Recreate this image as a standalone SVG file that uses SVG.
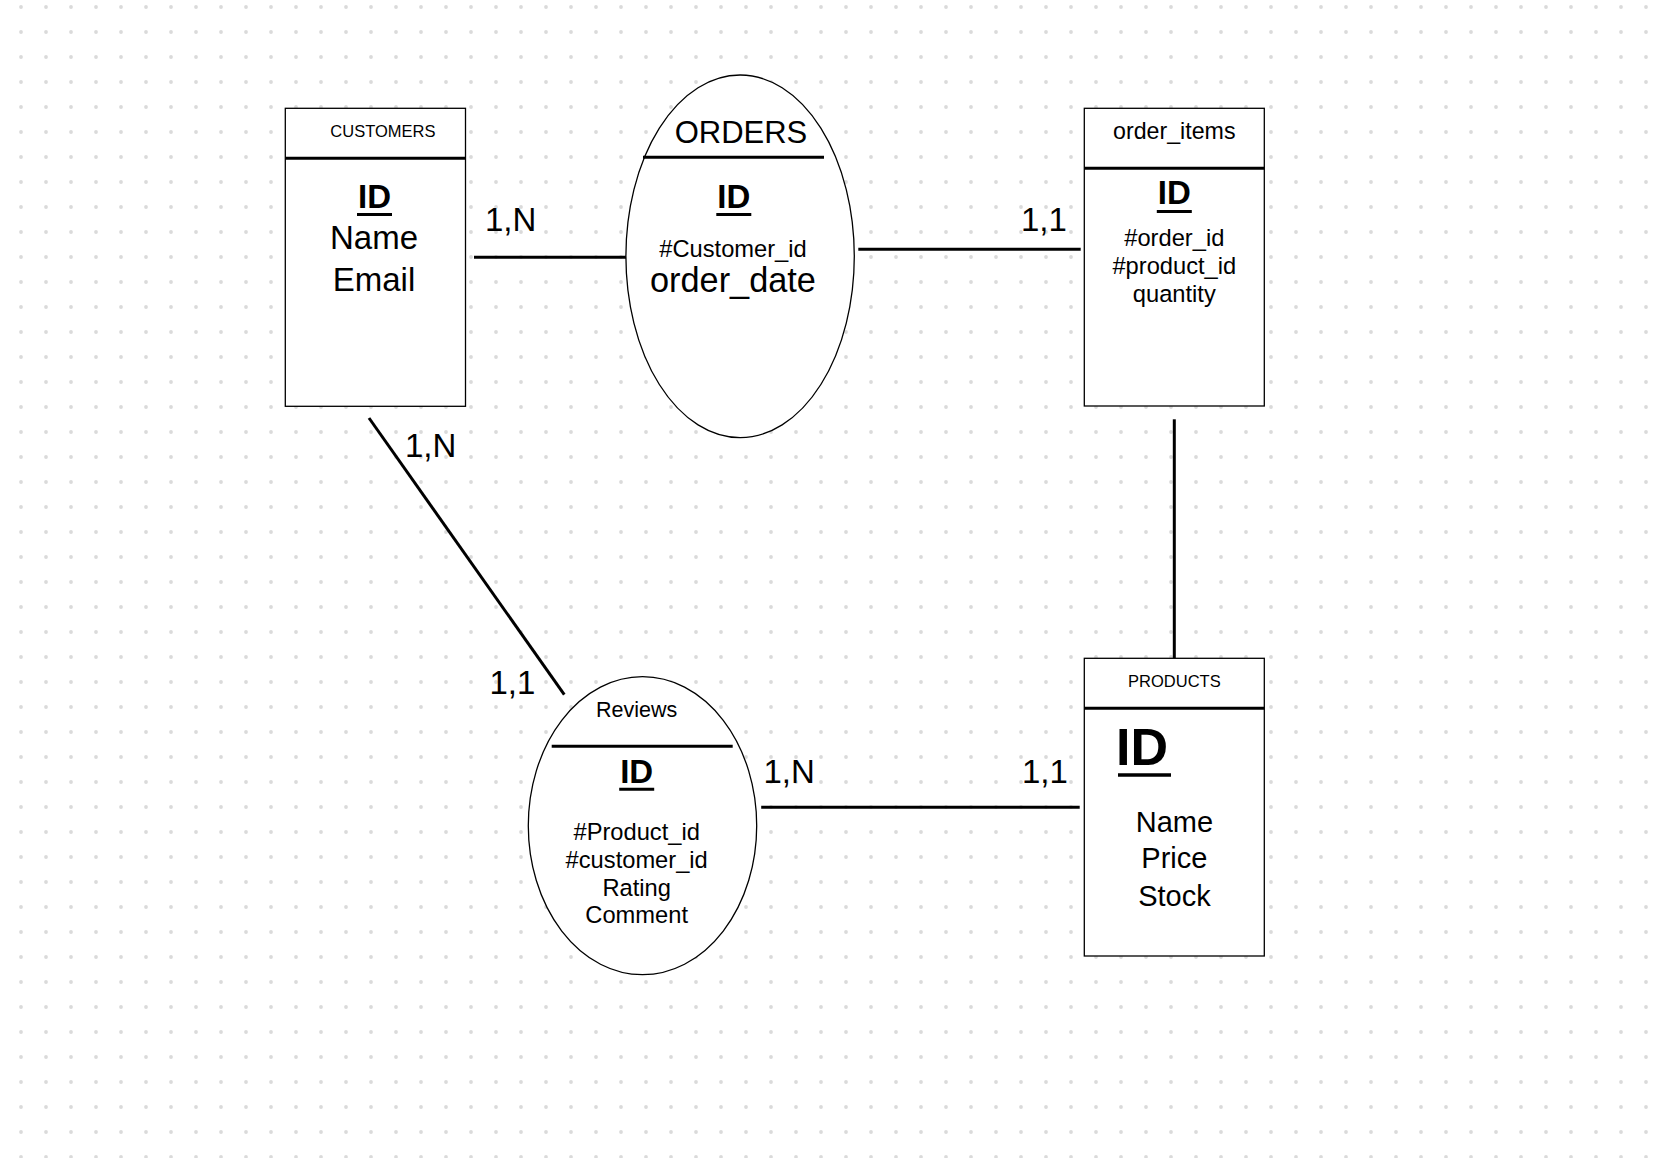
<svg xmlns="http://www.w3.org/2000/svg" width="1658" height="1158" viewBox="0 0 1658 1158">
<defs>
<pattern id="dots" x="0" y="0" width="25" height="25" patternUnits="userSpaceOnUse">
<circle cx="21" cy="7" r="1.9" fill="#dadada"/>
</pattern>
<style>
text{font-family:"Liberation Sans",Arial,sans-serif;fill:#000}
.box{fill:#fff;stroke:#000;stroke-width:1.3}
.sep{stroke:#000;stroke-width:3}
.conn{stroke:#000;stroke-width:3;fill:none}
.c{text-anchor:middle}
.id{font-weight:bold;font-size:33px;text-anchor:middle}
.card{font-size:33px}
.attr{font-size:23.7px;text-anchor:middle}
</style>
</defs>
<rect width="1658" height="1158" fill="#fff"/>
<rect width="1658" height="1158" fill="url(#dots)"/>

<g id="connectors">
<line class="conn" x1="474" y1="257.3" x2="630.5" y2="257.3"/>
<line class="conn" x1="858.3" y1="249.3" x2="1080.7" y2="249.3"/>
<line class="conn" x1="1174.3" y1="419.3" x2="1174.3" y2="658.3"/>
<line class="conn" x1="761.2" y1="807.3" x2="1079.7" y2="807.3"/>
<line class="conn" x1="369" y1="418" x2="564.3" y2="694.7"/>
<text class="card" x="485" y="230.7">1,N</text>
<text class="card" x="1021" y="230.7">1,1</text>
<text class="card" x="405" y="457.4">1,N</text>
<text class="card" x="489.5" y="693.9">1,1</text>
<text class="card" x="763.5" y="782.7">1,N</text>
<text class="card" x="1022" y="782.7">1,1</text>
</g>

<g id="customers">
<rect class="box" x="285.3" y="108.3" width="180.2" height="298"/>
<line class="sep" x1="285.3" y1="158.3" x2="465.5" y2="158.3"/>
<text class="c" x="382.9" y="136.7" font-size="16.5">CUSTOMERS</text>
<text class="id" x="374.5" y="208.3">ID</text>
<line x1="357" y1="214.5" x2="392" y2="214.5" stroke="#000" stroke-width="3"/>
<text class="c" x="374" y="249" font-size="33">Name</text>
<text class="c" x="374" y="291" font-size="33">Email</text>
</g>

<g id="orders">
<ellipse class="box" cx="740.1" cy="256.3" rx="114.2" ry="181.3"/>
<line class="sep" x1="643" y1="157.3" x2="824" y2="157.3"/>
<text class="c" x="741" y="142.7" font-size="31">ORDERS</text>
<text class="id" x="733.8" y="208.3">ID</text>
<line x1="716.3" y1="214.5" x2="751.3" y2="214.5" stroke="#000" stroke-width="3"/>
<text class="attr" x="733" y="257.3">#Customer_id</text>
<text class="c" x="733" y="292.3" font-size="34.3">order_date</text>
</g>

<g id="order_items">
<rect class="box" x="1084.3" y="108.3" width="180" height="297.7"/>
<line class="sep" x1="1084.3" y1="168.3" x2="1264.3" y2="168.3"/>
<text class="c" x="1174.3" y="139.3" font-size="23.2">order_items</text>
<text class="id" x="1174.3" y="204">ID</text>
<line x1="1156.8" y1="211.5" x2="1191.8" y2="211.5" stroke="#000" stroke-width="3"/>
<text class="attr" x="1174.3" y="246">#order_id</text>
<text class="attr" x="1174.3" y="274">#product_id</text>
<text class="attr" x="1174.3" y="302">quantity</text>
</g>

<g id="products">
<rect class="box" x="1084.3" y="658.3" width="180" height="297.7"/>
<line class="sep" x1="1084.3" y1="708.3" x2="1264.3" y2="708.3"/>
<text class="c" x="1174.4" y="686.7" font-size="16.5">PRODUCTS</text>
<text x="1116" y="765" font-size="52" font-weight="bold">ID</text>
<line x1="1118" y1="775" x2="1171" y2="775" stroke="#000" stroke-width="3.5"/>
<text class="c" x="1174.4" y="831.7" font-size="29">Name</text>
<text class="c" x="1174.4" y="868.3" font-size="29">Price</text>
<text class="c" x="1174.4" y="905.7" font-size="29">Stock</text>
</g>

<g id="reviews">
<ellipse class="box" cx="642.5" cy="825.7" rx="114.2" ry="149"/>
<line class="sep" x1="551.7" y1="746.3" x2="732.7" y2="746.3"/>
<text class="c" x="636.7" y="716.5" font-size="21.5">Reviews</text>
<text class="id" x="636.7" y="782.7">ID</text>
<line x1="619.2" y1="789.2" x2="654.2" y2="789.2" stroke="#000" stroke-width="3"/>
<text class="attr" x="636.7" y="840.1">#Product_id</text>
<text class="attr" x="636.7" y="867.7">#customer_id</text>
<text class="attr" x="636.7" y="895.6">Rating</text>
<text class="attr" x="636.7" y="923.2">Comment</text>
</g>
</svg>
